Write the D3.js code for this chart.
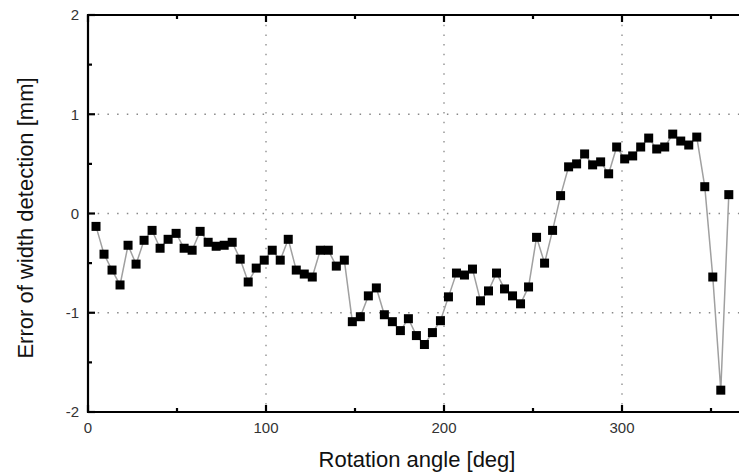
<!DOCTYPE html>
<html>
<head>
<meta charset="utf-8">
<script src="https://cdn.jsdelivr.net/npm/d3@7"></script>
<style>
  body { margin: 0; background: #fff; }
  svg { display: block; font-family: "Liberation Sans", Arial, sans-serif; }
</style>
</head>
<body>
<div id="chart"></div>
<script>
// rotation angle step (deg) and measured width error (mm)
const angleStep = 4.5;
const errorValues = [
  -0.13, -0.41, -0.57, -0.72, -0.32, -0.51, -0.27, -0.17, -0.35, -0.26,
  -0.20, -0.35, -0.37, -0.18, -0.29, -0.33, -0.32, -0.29, -0.46, -0.69,
  -0.55, -0.47, -0.37, -0.47, -0.26, -0.57, -0.61, -0.64, -0.37, -0.37,
  -0.53, -0.47, -1.09, -1.04, -0.83, -0.75, -1.02, -1.09, -1.18, -1.06,
  -1.23, -1.32, -1.20, -1.08, -0.84, -0.60, -0.62, -0.56, -0.88, -0.78,
  -0.60, -0.76, -0.83, -0.91, -0.74, -0.24, -0.50, -0.17, 0.18, 0.47,
  0.50, 0.60, 0.49, 0.52, 0.40, 0.67, 0.55, 0.58, 0.67, 0.76,
  0.65, 0.67, 0.80, 0.73, 0.69, 0.77, 0.27, -0.64, -1.78, 0.19
];
const xMajorTicks = [0, 100, 200, 300];
const xMinorTicks = [50, 150, 250, 350];
const yMajorTicks = [-2, -1, 0, 1, 2];
const yMinorTicks = [-1.5, -0.5, 0.5, 1.5];

const data = errorValues.map((v, i) => ({ angle: angleStep * (i + 1), error: v }));

const W = 739, H = 475;
const margin = { top: 15, left: 88, bottom: 63 };
const plotH = H - margin.top - margin.bottom;

const svg = d3.select("#chart").append("svg")
  .attr("width", W)
  .attr("height", H);

const x = d3.scaleLinear().domain([0, 370]).range([margin.left, margin.left + 370 * 1.78]);
const y = d3.scaleLinear().domain([-2, 2]).range([margin.top + plotH, margin.top]);

const x0 = x(0), y0 = y(-2), yTop = y(2), xEnd = x(370);

// grid lines
svg.append("g").selectAll("line")
  .data(xMajorTicks.filter(d => d > 0))
  .join("line")
  .attr("x1", d => x(d)).attr("x2", d => x(d))
  .attr("y1", yTop).attr("y2", y0)
  .attr("stroke", "#888").attr("stroke-width", 1.3)
  .attr("stroke-dasharray", "1.5,8.2");

svg.append("g").selectAll("line")
  .data(yMajorTicks.filter(d => d > -2 && d < 2))
  .join("line")
  .attr("x1", x0).attr("x2", xEnd)
  .attr("y1", d => y(d)).attr("y2", d => y(d))
  .attr("stroke", "#888").attr("stroke-width", 1.3)
  .attr("stroke-dasharray", "1.5,8.2");

// data line and markers
const line = d3.line().x(d => x(d.angle)).y(d => y(d.error));
svg.append("path")
  .datum(data)
  .attr("d", line)
  .attr("fill", "none")
  .attr("stroke", "#a0a0a0")
  .attr("stroke-width", 1.5);

const ms = 9;
svg.append("g").selectAll("rect")
  .data(data)
  .join("rect")
  .attr("x", d => x(d.angle) - ms / 2)
  .attr("y", d => y(d.error) - ms / 2)
  .attr("width", ms).attr("height", ms)
  .attr("fill", "#000");

// frame
const frame = svg.append("g").attr("stroke", "#000").attr("stroke-width", 2.2).attr("fill", "none");
frame.append("line").attr("x1", x0).attr("x2", xEnd + 5).attr("y1", y0).attr("y2", y0);
frame.append("line").attr("x1", x0).attr("x2", xEnd + 5).attr("y1", yTop).attr("y2", yTop);
frame.append("line").attr("x1", x0).attr("x2", x0).attr("y1", yTop - 1).attr("y2", y0 + 1);

// ticks (inward)
const ticks = svg.append("g").attr("stroke", "#000").attr("stroke-width", 2.2);
xMajorTicks.concat(xMinorTicks).forEach(t => {
  const len = xMajorTicks.includes(t) ? 7 : 4;
  ticks.append("line").attr("x1", x(t)).attr("x2", x(t)).attr("y1", y0).attr("y2", y0 - len);
  ticks.append("line").attr("x1", x(t)).attr("x2", x(t)).attr("y1", yTop).attr("y2", yTop + len);
});
yMajorTicks.concat(yMinorTicks).forEach(t => {
  const len = yMajorTicks.includes(t) ? 7 : 4;
  ticks.append("line").attr("x1", x0).attr("x2", x0 + len).attr("y1", y(t)).attr("y2", y(t));
});

// tick labels
svg.append("g").selectAll("text")
  .data(xMajorTicks)
  .join("text")
  .attr("x", d => x(d))
  .attr("y", y0 + 21)
  .attr("text-anchor", "middle")
  .attr("font-size", 15)
  .attr("fill", "#333")
  .text(d => d);

svg.append("g").selectAll("text")
  .data(yMajorTicks)
  .join("text")
  .attr("x", x0 - 9)
  .attr("y", d => y(d))
  .attr("dy", "0.35em")
  .attr("text-anchor", "end")
  .attr("font-size", 15)
  .attr("fill", "#333")
  .text(d => d);

// axis titles
svg.append("text")
  .attr("x", 417)
  .attr("y", 467)
  .attr("text-anchor", "middle")
  .attr("font-size", 22)
  .attr("fill", "#111")
  .text("Rotation angle [deg]");

svg.append("text")
  .attr("transform", `translate(33, 218) rotate(-90)`)
  .attr("text-anchor", "middle")
  .attr("font-size", 22)
  .attr("fill", "#111")
  .text("Error of width detection [mm]");
</script>
</body>
</html>
